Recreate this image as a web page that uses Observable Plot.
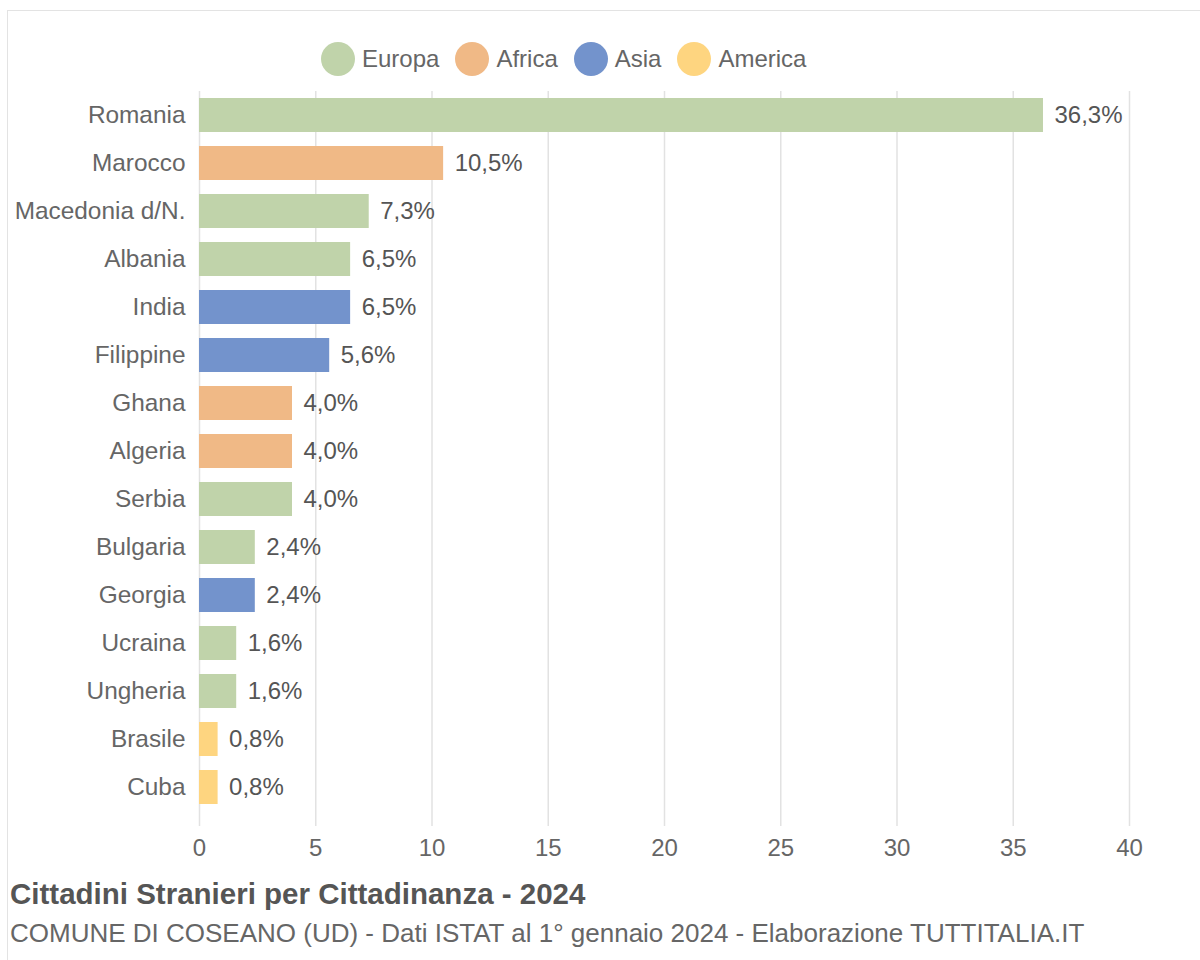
<!DOCTYPE html>
<html>
<head>
<meta charset="utf-8">
<script src="https://cdn.jsdelivr.net/npm/d3@7"></script>
<script src="https://cdn.jsdelivr.net/npm/@observablehq/plot@0.6"></script>
<style>
  html, body { margin: 0; padding: 0; background: #fff; }
  body { width: 1200px; height: 960px; overflow: hidden; position: relative; font-family: "Liberation Sans", Arial, sans-serif; }
  #card { position: absolute; left: 7px; top: 10px; width: 1210px; height: 960px; border: 1px solid #e3e3e3; box-sizing: border-box; }
  #chart { position: absolute; left: 0; top: 0; }
  #legend { position: absolute; top: 42px; left: 321px; display: flex; align-items: center; font-size: 24px; color: #666; line-height: 34px; }
  .item { display: flex; align-items: center; margin-right: 16px; }
  .dot { width: 34px; height: 34px; border-radius: 50%; margin-right: 7px; }
  #title { position: absolute; left: 10px; top: 877px; font-size: 29.5px; font-weight: bold; color: #555; line-height: 33px; white-space: nowrap; }
  #subtitle { position: absolute; left: 10px; top: 919px; font-size: 26px; color: #666; line-height: 29px; white-space: nowrap; }
</style>
</head>
<body>
<div id="card"></div>
<div id="chart"></div>
<div id="legend"></div>
<div id="title">Cittadini Stranieri per Cittadinanza - 2024</div>
<div id="subtitle">COMUNE DI COSEANO (UD) - Dati ISTAT al 1° gennaio 2024 - Elaborazione TUTTITALIA.IT</div>
<script>
const countries = ["Romania","Marocco","Macedonia d/N.","Albania","India","Filippine","Ghana","Algeria","Serbia","Bulgaria","Georgia","Ucraina","Ungheria","Brasile","Cuba"];
const values = [36.3,10.5,7.3,6.5,6.5,5.6,4.0,4.0,4.0,2.4,2.4,1.6,1.6,0.8,0.8];
const continents = ["Europa","Africa","Europa","Europa","Asia","Asia","Africa","Africa","Europa","Europa","Asia","Europa","Europa","America","America"];
const legendNames = ["Europa","Africa","Asia","America"];
const legendColors = ["#c0d3aa","#f0b986","#7393cc","#fed580"];
const xTicks = [0,5,10,15,20,25,30,35,40];

const data = countries.map((c, i) => ({country: c, value: values[i], continent: continents[i]}));
const fmt = v => v.toFixed(1).replace(".", ",") + "%";
const FONT = "'Liberation Sans', Arial, sans-serif";

const plot = Plot.plot({
  width: 1200,
  height: 870,
  marginTop: 91,
  marginBottom: 59,
  marginLeft: 199,
  marginRight: 71,
  style: {fontFamily: FONT, fontSize: "24px", color: "#666", background: "transparent"},
  x: {domain: [0, 40], ticks: xTicks, label: null},
  y: {domain: countries, paddingInner: 0.29, paddingOuter: 0.145, label: null},
  color: {domain: legendNames, range: legendColors},
  marks: [
    Plot.ruleX(xTicks, {stroke: "#e2e2e2", strokeWidth: 1.5, insetBottom: -15}),
    Plot.ruleY([0], {frameAnchor: "bottom", stroke: "#e2e2e2", strokeWidth: 1.5}),
    Plot.barX(data, {x: "value", y: "country", fill: "continent"}),
    Plot.text(data, {x: "value", y: "country", text: d => fmt(d.value), textAnchor: "start", dx: 11, fill: "#555", fontSize: 24}),
    Plot.axisX({ticks: xTicks, tickSize: 0, tickPadding: 27, fill: "#666", fontSize: 24, label: null}),
    Plot.axisY({tickSize: 0, tickPadding: 14, fill: "#666", fontSize: 24.4, label: null})
  ]
});
document.getElementById("chart").appendChild(plot);

const legend = document.getElementById("legend");
legendNames.forEach((n, i) => {
  const it = document.createElement("div");
  it.className = "item";
  const dot = document.createElement("div");
  dot.className = "dot";
  dot.style.background = legendColors[i];
  const t = document.createElement("span");
  t.textContent = n;
  it.appendChild(dot);
  it.appendChild(t);
  legend.appendChild(it);
});
</script>
</body>
</html>
